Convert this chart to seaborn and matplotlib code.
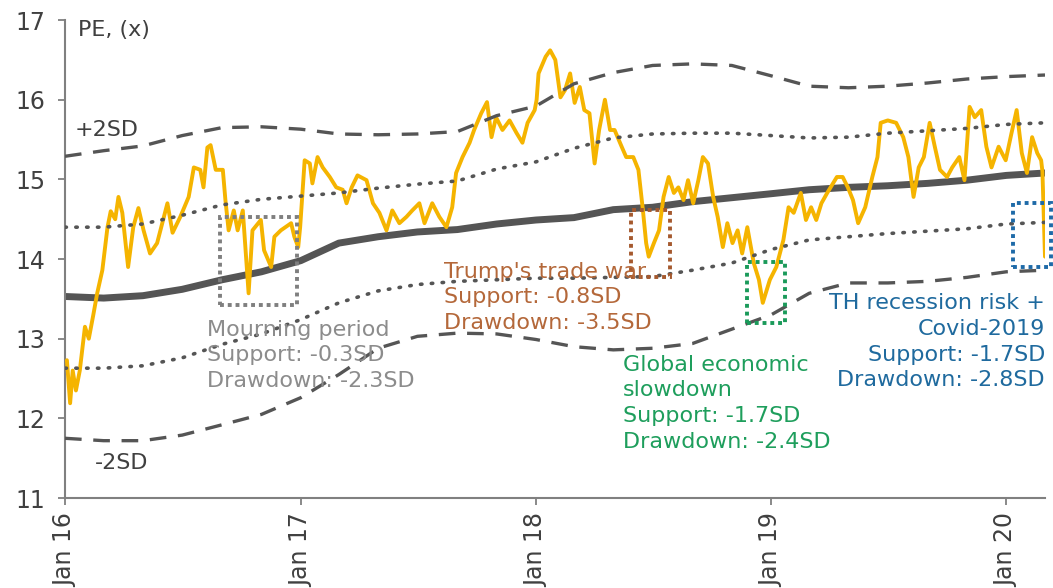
import matplotlib
matplotlib.use("Agg")
import matplotlib.pyplot as plt
import matplotlib.dates as mdates
from matplotlib.patches import Rectangle
import pandas as pd
import seaborn as sns

# ---------------- data ----------------
pe_dates = [
    "2016-01-04", "2016-01-09", "2016-01-13", "2016-01-18", "2016-01-24", "2016-02-01", "2016-02-07",
    "2016-02-14", "2016-02-20", "2016-02-28", "2016-03-07", "2016-03-12", "2016-03-19", "2016-03-24",
    "2016-03-30", "2016-04-08", "2016-04-16", "2016-04-24", "2016-05-02", "2016-05-12", "2016-05-23",
    "2016-05-31", "2016-06-08", "2016-06-16", "2016-06-28", "2016-07-11", "2016-07-19", "2016-07-29",
    "2016-08-03", "2016-08-09", "2016-08-14", "2016-08-22", "2016-09-02", "2016-09-06", "2016-09-11",
    "2016-09-19", "2016-09-25", "2016-10-03", "2016-10-12", "2016-10-18", "2016-10-31", "2016-11-05",
    "2016-11-16", "2016-11-21", "2016-12-01", "2016-12-17", "2016-12-22", "2016-12-28", "2016-12-31",
    "2017-01-07", "2017-01-15", "2017-01-19", "2017-01-27", "2017-02-04", "2017-02-15", "2017-02-25",
    "2017-03-07", "2017-03-13", "2017-03-21", "2017-03-30", "2017-04-13", "2017-04-23", "2017-05-03",
    "2017-05-14", "2017-05-23", "2017-06-03", "2017-06-14", "2017-06-23", "2017-07-04", "2017-07-12",
    "2017-07-24", "2017-08-04", "2017-08-15", "2017-08-24", "2017-08-30", "2017-09-09", "2017-09-20",
    "2017-09-27", "2017-10-08", "2017-10-17", "2017-10-24", "2017-10-31", "2017-11-10", "2017-11-21",
    "2017-12-02", "2017-12-11", "2017-12-19", "2017-12-30", "2018-01-02", "2018-01-05", "2018-01-16",
    "2018-01-23", "2018-01-31", "2018-02-08", "2018-02-15", "2018-02-23", "2018-03-02", "2018-03-10",
    "2018-03-17", "2018-03-25", "2018-04-02", "2018-04-09", "2018-04-18", "2018-04-26", "2018-05-03",
    "2018-05-14", "2018-05-21", "2018-06-01", "2018-06-09", "2018-06-16", "2018-06-21", "2018-06-25",
    "2018-07-03", "2018-07-11", "2018-07-18", "2018-07-26", "2018-08-03", "2018-08-10", "2018-08-18",
    "2018-08-25", "2018-09-02", "2018-09-10", "2018-09-17", "2018-09-25", "2018-10-03", "2018-10-10",
    "2018-10-18", "2018-10-25", "2018-11-02", "2018-11-10", "2018-11-17", "2018-11-25", "2018-12-05",
    "2018-12-13", "2018-12-19", "2018-12-25", "2018-12-30", "2019-01-09", "2019-01-20", "2019-01-28",
    "2019-02-05", "2019-02-16", "2019-02-24", "2019-03-04", "2019-03-12", "2019-03-20", "2019-03-29",
    "2019-04-13", "2019-04-22", "2019-04-30", "2019-05-08", "2019-05-16", "2019-05-27", "2019-06-07",
    "2019-06-15", "2019-06-20", "2019-07-01", "2019-07-14", "2019-07-25", "2019-08-02", "2019-08-10",
    "2019-08-18", "2019-08-26", "2019-09-04", "2019-09-12", "2019-09-20", "2019-10-01", "2019-10-09",
    "2019-10-20", "2019-10-28", "2019-11-05", "2019-11-13", "2019-11-23", "2019-12-01", "2019-12-09",
    "2019-12-20", "2019-12-31", "2020-01-09", "2020-01-17", "2020-01-25", "2020-02-02", "2020-02-10",
    "2020-02-18", "2020-02-24", "2020-02-26", "2020-03-01",
]
pe_values = [
    12.73, 12.19, 12.60, 12.35, 12.60, 13.15, 13.00,
    13.30, 13.57, 13.86, 14.40, 14.60, 14.50, 14.78,
    14.58, 13.90, 14.40, 14.64, 14.36, 14.07, 14.20,
    14.45, 14.70, 14.33, 14.53, 14.78, 15.15, 15.12,
    14.90, 15.40, 15.43, 15.12, 15.12, 14.74, 14.36,
    14.61, 14.36, 14.61, 13.57, 14.36, 14.49, 14.11,
    13.90, 14.28, 14.36, 14.45, 14.28, 14.15, 14.40,
    15.24, 15.20, 14.95, 15.28, 15.15, 15.03, 14.90,
    14.87, 14.70, 14.90, 15.05, 14.99, 14.70, 14.58,
    14.36, 14.61, 14.45, 14.53, 14.61, 14.70, 14.45,
    14.70, 14.53, 14.40, 14.65, 15.08, 15.28, 15.46,
    15.62, 15.83, 15.97, 15.53, 15.78, 15.62, 15.74,
    15.58, 15.46, 15.71, 15.87, 16.00, 16.33, 16.54,
    16.62, 16.50, 16.03, 16.12, 16.33, 15.96, 16.16,
    15.87, 15.83, 15.20, 15.62, 16.00, 15.62, 15.62,
    15.41, 15.28, 15.28, 15.12, 14.61, 14.20, 14.03,
    14.20, 14.36, 14.78, 15.03, 14.83, 14.90, 14.74,
    14.99, 14.70, 14.99, 15.28, 15.20, 14.78, 14.53,
    14.15, 14.45, 14.20, 14.36, 14.07, 14.40, 13.95,
    13.74, 13.45, 13.61, 13.74, 13.90, 14.24, 14.65,
    14.58, 14.83, 14.49, 14.65, 14.49, 14.70, 14.83,
    15.03, 15.03, 14.90, 14.74, 14.45, 14.65, 15.03,
    15.28, 15.71, 15.74, 15.71, 15.53, 15.28, 14.78,
    15.15, 15.28, 15.71, 15.41, 15.12, 15.03, 15.15,
    15.28, 14.99, 15.91, 15.78, 15.87, 15.41, 15.15,
    15.41, 15.24, 15.58, 15.87, 15.33, 15.08, 15.53,
    15.33, 15.24, 15.10, 14.03,
]

band_dates = [
    "2016-01-01", "2016-03-01", "2016-05-01", "2016-07-01", "2016-09-01", "2016-11-01",
    "2017-01-01", "2017-03-01", "2017-05-01", "2017-07-01", "2017-09-01", "2017-11-01",
    "2018-01-01", "2018-03-01", "2018-05-01", "2018-07-01", "2018-09-01", "2018-11-01",
    "2019-01-01", "2019-03-01", "2019-05-01", "2019-07-01", "2019-09-01", "2019-11-01",
    "2020-01-01", "2020-03-01",
]
mean_pe = [13.53, 13.51, 13.54, 13.62, 13.74, 13.84, 13.98, 14.20, 14.28, 14.34, 14.37, 14.44,
           14.49, 14.52, 14.62, 14.65, 14.72, 14.77, 14.82, 14.87, 14.90, 14.92, 14.95, 14.99,
           15.05, 15.08]
plus_1sd = [14.40, 14.40, 14.44, 14.55, 14.68, 14.75, 14.79, 14.83, 14.89, 14.94, 14.98, 15.13,
            15.22, 15.39, 15.52, 15.57, 15.58, 15.58, 15.55, 15.52, 15.53, 15.58, 15.61, 15.64,
            15.69, 15.71]
minus_1sd = [12.63, 12.63, 12.66, 12.76, 12.93, 13.06, 13.24, 13.45, 13.60, 13.68, 13.72, 13.74,
             13.76, 13.76, 13.77, 13.78, 13.86, 13.95, 14.12, 14.24, 14.28, 14.32, 14.35, 14.38,
             14.44, 14.46]
plus_2sd = [15.29, 15.36, 15.42, 15.55, 15.65, 15.66, 15.63, 15.57, 15.56, 15.57, 15.60, 15.80,
            15.92, 16.20, 16.34, 16.43, 16.45, 16.43, 16.30, 16.17, 16.15, 16.17, 16.21, 16.26,
            16.29, 16.31]
minus_2sd = [11.75, 11.72, 11.72, 11.79, 11.92, 12.05, 12.26, 12.55, 12.88, 13.03, 13.07, 13.06,
             12.99, 12.90, 12.86, 12.88, 12.94, 13.12, 13.30, 13.57, 13.70, 13.70, 13.72, 13.77,
             13.84, 13.86]

event_labels = [
    "Mourning period\nSupport: -0.3SD\nDrawdown: -2.3SD",
    "Trump's trade war\nSupport: -0.8SD\nDrawdown: -3.5SD",
    "Global economic\nslowdown\nSupport: -1.7SD\nDrawdown: -2.4SD",
    "TH recession risk +\nCovid-2019\nSupport: -1.7SD\nDrawdown: -2.8SD",
]
event_start = ["2016-08-28", "2018-05-29", "2018-11-24", "2020-01-12"]
event_end = ["2016-12-26", "2018-07-28", "2019-01-23", "2020-03-11"]
event_low = [13.42, 13.77, 13.20, 13.90]
event_high = [14.53, 14.61, 13.96, 14.70]

year_ticks = ["2016-01-01", "2017-01-01", "2018-01-01", "2019-01-01", "2020-01-01"]
year_labels = ["Jan 16", "Jan 17", "Jan 18", "Jan 19", "Jan 20"]

# ---------------- style ----------------
sns.set_theme(style="white")
plt.rcParams["font.family"] = ["DejaVu Sans"]

DARK = "#555555"
YELLOW = "#F5B400"
event_text_colors = ["#8C8C8C", "#B4683A", "#1E9E5C", "#1F6A9E"]
event_box_colors = ["#7F7F7F", "#A5592E", "#1A9A5A", "#1E6AA8"]

fig = plt.figure(figsize=(10.53, 5.88), dpi=100)
ax = fig.add_axes([0.0617, 0.153, 0.9307, 0.8129])

pe = pd.DataFrame({"date": pd.to_datetime(pe_dates), "pe": pe_values})
bands = pd.DataFrame({
    "date": pd.to_datetime(band_dates),
    "mean": mean_pe,
    "p1": plus_1sd,
    "m1": minus_1sd,
    "p2": plus_2sd,
    "m2": minus_2sd,
})

sns.lineplot(data=bands, x="date", y="mean", ax=ax, color=DARK, lw=5, zorder=2)
sns.lineplot(data=pe, x="date", y="pe", ax=ax, color=YELLOW, lw=2.8, zorder=3)
for col in ["p1", "m1"]:
    sns.lineplot(data=bands, x="date", y=col, ax=ax, color=DARK, lw=2.6,
                 linestyle=(0, (0.4, 2.6)), dash_capstyle="round", zorder=4)
for col in ["p2", "m2"]:
    sns.lineplot(data=bands, x="date", y=col, ax=ax, color=DARK, lw=2.4,
                 linestyle=(0, (5, 3.5)), zorder=4)

# event boxes
for s, e, lo, hi, c in zip(event_start, event_end, event_low, event_high, event_box_colors):
    x0 = mdates.date2num(pd.Timestamp(s))
    x1 = mdates.date2num(pd.Timestamp(e))
    ax.add_patch(Rectangle((x0, lo), x1 - x0, hi - lo, fill=False, edgecolor=c,
                           lw=2.8, linestyle=(0, (1, 1)), clip_on=False, zorder=5))

FS = 16
text_pos = [
    ("2016-08-08", 12.79, "left"),
    ("2017-08-12", 13.52, "left"),
    ("2018-05-16", 12.19, "left"),
    ("2020-03-01", 12.96, "right"),
]
for lab, (d, y, ha), c in zip(event_labels, text_pos, event_text_colors):
    ax.text(pd.Timestamp(d), y, lab, color=c, fontsize=FS, ha=ha, va="center",
            multialignment=ha, linespacing=1.35, zorder=6)

ax.text(pd.Timestamp("2016-01-16"), 15.62, "+2SD", color="#404040", fontsize=FS, ha="left", va="center")
ax.text(pd.Timestamp("2016-02-16"), 11.44, "-2SD", color="#404040", fontsize=FS, ha="left", va="center")
ax.text(pd.Timestamp("2016-01-21"), 16.87, "PE, (x)", color="#404040", fontsize=FS, ha="left", va="center")

# axes
ax.set_ylim(11, 17)
ax.set_yticks(range(11, 18))
ax.set_xlim(pd.Timestamp("2016-01-01"), pd.Timestamp("2020-03-01"))
ax.set_xticks(pd.to_datetime(year_ticks))
ax.set_xticklabels(year_labels, rotation=90)
ax.set_xlabel("")
ax.set_ylabel("")
for sp in ["top", "right"]:
    ax.spines[sp].set_visible(False)
for sp in ["left", "bottom"]:
    ax.spines[sp].set_color("#808080")
    ax.spines[sp].set_linewidth(1.5)
ax.tick_params(axis="both", bottom=True, left=True, direction="out", length=5, width=1.3,
               colors="#808080", labelcolor="#404040", labelsize=17)
ax.tick_params(axis="y", pad=9)
ax.tick_params(axis="x", pad=6)
ax.grid(False)

fig.savefig("out.png", dpi=100)
